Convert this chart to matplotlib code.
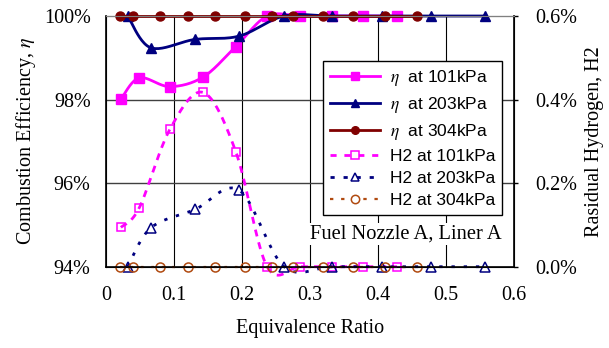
import numpy as np
import matplotlib
matplotlib.use('Agg')
import matplotlib.pyplot as plt
from matplotlib.lines import Line2D
from matplotlib.ticker import FuncFormatter

plt.rcParams['mathtext.fontset'] = 'stix'
serif = 'Liberation Serif'
sans = 'Liberation Sans'

# equivalence ratio / efficiency (%) / residual H2 (%)
phi_101 = [0.022, 0.049, 0.094, 0.143, 0.191, 0.237, 0.285, 0.332, 0.378, 0.428]
eta_101 = [98.01, 98.52, 98.31, 98.54, 99.27, 100, 100, 100, 100, 100]
h2_101 = [0.094, 0.141, 0.329, 0.417, 0.275, 0, 0, 0, 0, 0]

phi_203 = [0.032, 0.066, 0.131, 0.196, 0.262, 0.332, 0.406, 0.478, 0.557]
eta_203 = [100, 99.24, 99.44, 99.52, 100, 100, 100, 100, 100]
h2_203 = [0, 0.093, 0.137, 0.183, 0, 0, 0, 0, 0]

phi_304 = [0.021, 0.040, 0.079, 0.121, 0.160, 0.204, 0.244, 0.275, 0.319, 0.363, 0.410, 0.457]
eta_304 = [100] * 12
h2_304 = [0] * 12

c101 = '#FF00FF'
c203 = '#000080'
c304 = '#800000'
c304h = '#B04A10'


def smooth(x, y, n=25):
    # excel-like smoothed line (bezier through the points)
    P = np.column_stack([x, y]).astype(float)
    P = np.vstack([P[0], P, P[-1]])
    t = np.linspace(0, 1, n)[:, None]
    segs = []
    for i in range(1, len(P) - 2):
        p0, p1, p2, p3 = P[i - 1], P[i], P[i + 1], P[i + 2]
        c1 = p1 + (p2 - p0) / 6
        c2 = p2 - (p3 - p1) / 6
        segs.append((1 - t) ** 3 * p1 + 3 * (1 - t) ** 2 * t * c1 + 3 * (1 - t) * t ** 2 * c2 + t ** 3 * p2)
    s = np.vstack(segs)
    return s[:, 0], s[:, 1]


fig = plt.figure(figsize=(6.09, 3.48), dpi=100)
ax = fig.add_axes([0.174, 0.2336, 0.670, 0.7204])
ax2 = ax.twinx()

ax.set_xlim(0, 0.6)
ax.set_ylim(94, 100)
ax2.set_ylim(0, 0.6)

ax.set_xticks([0, 0.1, 0.2, 0.3, 0.4, 0.5, 0.6])
ax.set_xticklabels(['0', '0.1', '0.2', '0.3', '0.4', '0.5', '0.6'])
ax.set_yticks([94, 96, 98, 100])
ax.yaxis.set_major_formatter(FuncFormatter(lambda v, p: '%d%%' % v))
ax2.set_yticks([0, 0.2, 0.4, 0.6])
ax2.yaxis.set_major_formatter(FuncFormatter(lambda v, p: '%.1f%%' % v))

for a in (ax, ax2):
    for lab in a.get_xticklabels() + a.get_yticklabels():
        lab.set_family(serif)
        lab.set_fontsize(14.5)
ax.tick_params(axis='x', length=0, pad=14)
ax.tick_params(axis='y', length=0, pad=11)
ax2.tick_params(axis='y', length=3, direction='out', pad=12, width=1)

for x in [0.1, 0.2, 0.3, 0.4, 0.5]:
    ax.axvline(x, color='black', lw=0.8, zorder=0)
for y in [96, 98]:
    ax.axhline(y, color='#404040', lw=1.0, zorder=0)

for s in ['left', 'bottom', 'right']:
    ax2.spines[s].set_color('black')
    ax2.spines[s].set_linewidth(1.2)
ax2.spines['top'].set_color('#808080')

# efficiency
ms = 6.5
xs, ys = smooth(phi_101, eta_101)
ax.plot(xs, ys, color=c101, lw=2)
ax.plot(phi_101, eta_101, 's', color=c101, ms=ms)
xs, ys = smooth(phi_203, eta_203)
ax.plot(xs, ys, color=c203, lw=2)
ax.plot(phi_203, eta_203, '^', color=c203, ms=ms + 0.5)
xs, ys = smooth(phi_304, eta_304)
ax.plot(xs, ys, color=c304, lw=2)
ax.plot(phi_304, eta_304, 'o', color=c304, ms=ms)

# residual hydrogen
xs, ys = smooth(phi_101, h2_101)
ax2.plot(xs, ys, color=c101, lw=2, dashes=(2.5, 2.2))
ax2.plot(phi_101, h2_101, 's', mfc='none', mec=c101, ms=6, mew=1.1)
xs, ys = smooth(phi_203, h2_203)
ax2.plot(xs, ys, color=c203, lw=2, dashes=(1.2, 3.2))
ax2.plot(phi_203, h2_203, '^', mfc='none', mec=c203, ms=6.5, mew=1.1)
xs, ys = smooth(phi_304, h2_304)
ax2.plot(xs, ys, color=c304h, lw=1.6, dashes=(1.2, 3.5))
ax2.plot(phi_304, h2_304, 'o', mfc='none', mec=c304h, ms=6.5, mew=1.1)
for l in ax.lines + ax2.lines:
    l.set_clip_on(False)
ax.set_zorder(1)
ax2.set_zorder(2)
ax.patch.set_visible(True)
ax2.patch.set_visible(False)

ax.set_xlabel('Equivalence Ratio', family=serif, fontsize=14.5, labelpad=10)
ax.set_ylabel(r'Combustion Efficiency, $\eta$', family=serif, fontsize=14.5, labelpad=4)
ax2.set_ylabel('Rasidual Hydrogen, H2', family=serif, fontsize=14.5, labelpad=6)

ax2.text(0.97, 0.13, 'Fuel Nozzle A, Liner A', transform=ax2.transAxes, ha='right', va='center',
         family=serif, fontsize=14.8, bbox=dict(facecolor='white', edgecolor='none', pad=1), zorder=5)

handles = [
    Line2D([], [], color=c101, lw=2, marker='s', ms=5.5),
    Line2D([], [], color=c203, lw=2, marker='^', ms=6),
    Line2D([], [], color=c304, lw=2, marker='o', ms=5.5),
    Line2D([], [], color=c101, lw=2, dashes=(2.2, 2.8), marker='s', mfc='white', mec=c101, ms=5.5, mew=1.1),
    Line2D([], [], color=c203, lw=2, dashes=(1.5, 3.2), marker='^', mfc='white', mec=c203, ms=6, mew=1.1),
    Line2D([], [], color=c304h, lw=1.6, dashes=(1.5, 3.5), marker='o', mfc='white', mec=c304h, ms=6, mew=1.1),
]
labels = [r'$\eta$  at 101kPa', r'$\eta$  at 203kPa', r'$\eta$  at 304kPa',
          'H2 at 101kPa', 'H2 at 203kPa', 'H2 at 304kPa']
leg = ax2.legend(handles, labels, loc='upper left', bbox_to_anchor=(0.532, 0.8205), borderaxespad=0,
                 prop={'family': sans, 'size': 12.5}, frameon=True, fancybox=False, framealpha=1,
                 edgecolor='black', handlelength=2.9, labelspacing=0.4, handletextpad=0.55,
                 borderpad=0.4)
leg.get_frame().set_linewidth(1.0)
leg.set_zorder(10)

fig.savefig('out.png', dpi=100)
